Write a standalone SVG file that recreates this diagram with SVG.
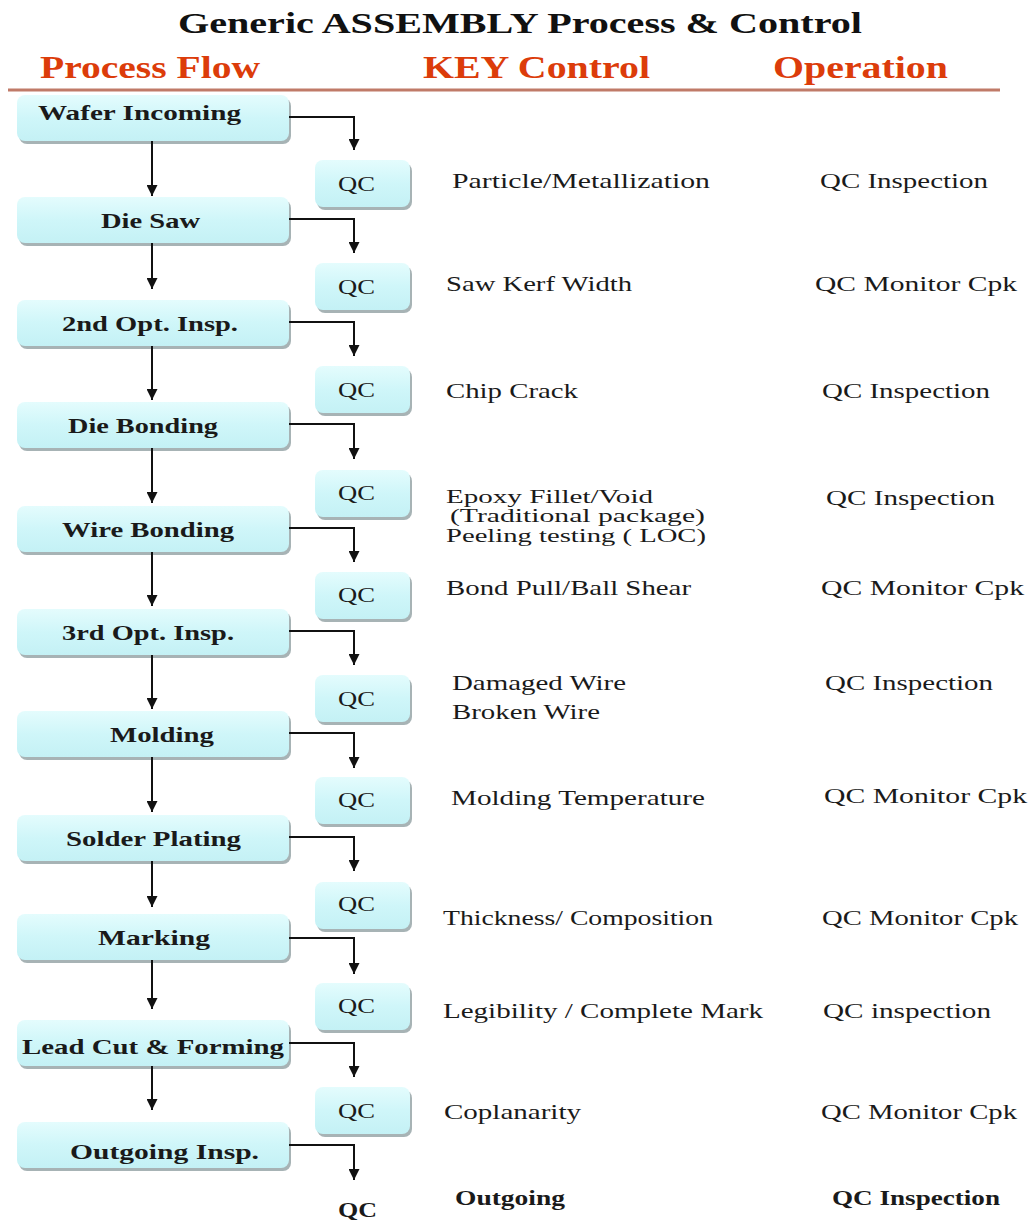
<svg xmlns="http://www.w3.org/2000/svg" width="1033" height="1220" viewBox="0 0 1033 1220">
<style>
  .title{font-family:"Liberation Serif","Times New Roman",serif;font-weight:bold;font-size:30px;fill:#111}
  .hdr{font-family:"Liberation Serif","Times New Roman",serif;font-weight:bold;font-size:31px;fill:#dc3c0a}
  .pl{font-family:"Liberation Serif","Times New Roman",serif;font-weight:bold;font-size:22px;fill:#1a1a1a}
  .qc{font-family:"Liberation Serif","Times New Roman",serif;font-size:21px;fill:#1a1a1a}
  .t{font-family:"Liberation Serif","Times New Roman",serif;font-size:22px;fill:#1a1a1a}
  .ts{font-family:"Liberation Serif","Times New Roman",serif;font-size:18px;fill:#1a1a1a}
  .tb{font-family:"Liberation Serif","Times New Roman",serif;font-size:22px;font-weight:bold;fill:#1a1a1a}
  .box{fill:url(#cyan)}
  .shadow{fill:#8a9a9c;opacity:0.75}
  .conn{fill:none;stroke:#111;stroke-width:2}
</style>
<defs>
  <linearGradient id="cyan" x1="0" y1="0" x2="0" y2="1">
    <stop offset="0" stop-color="#e4fcfd"/>
    <stop offset="0.5" stop-color="#cff6f9"/>
    <stop offset="1" stop-color="#c4f1f5"/>
  </linearGradient>
  <marker id="arr" viewBox="0 0 10 10" refX="10" refY="5" markerWidth="11" markerHeight="11" markerUnits="userSpaceOnUse" orient="auto">
    <path d="M0,0 L10,5 L0,10 z" fill="#111"/>
  </marker>
</defs>
<rect width="1033" height="1220" fill="#fff"/>

<!-- heading -->
<text class="title" x="178" y="33" textLength="684" lengthAdjust="spacingAndGlyphs">Generic ASSEMBLY Process &amp; Control</text>
<text class="hdr" x="40" y="78" textLength="220" lengthAdjust="spacingAndGlyphs">Process Flow</text>
<text class="hdr" x="423" y="78" textLength="227" lengthAdjust="spacingAndGlyphs">KEY Control</text>
<text class="hdr" x="773" y="78" textLength="175" lengthAdjust="spacingAndGlyphs">Operation</text>
<line x1="8" y1="90" x2="1000" y2="90" stroke="#c07a68" stroke-width="3"/>

<!-- process steps -->
<g id="p1"><rect class="shadow" x="19" y="98" width="272" height="46" rx="8"/><rect class="box" x="17" y="95" width="272" height="46" rx="8"/><text class="pl" x="38" y="120" textLength="203" lengthAdjust="spacingAndGlyphs">Wafer Incoming</text></g>
<g id="p2"><rect class="shadow" x="19" y="200" width="272" height="46" rx="8"/><rect class="box" x="17" y="197" width="272" height="46" rx="8"/><text class="pl" x="101" y="228" textLength="99" lengthAdjust="spacingAndGlyphs">Die Saw</text></g>
<g id="p3"><rect class="shadow" x="19" y="303" width="272" height="46" rx="8"/><rect class="box" x="17" y="300" width="272" height="46" rx="8"/><text class="pl" x="62" y="331" textLength="176" lengthAdjust="spacingAndGlyphs">2nd Opt. Insp.</text></g>
<g id="p4"><rect class="shadow" x="19" y="405" width="272" height="46" rx="8"/><rect class="box" x="17" y="402" width="272" height="46" rx="8"/><text class="pl" x="68" y="433" textLength="150" lengthAdjust="spacingAndGlyphs">Die Bonding</text></g>
<g id="p5"><rect class="shadow" x="19" y="509" width="272" height="46" rx="8"/><rect class="box" x="17" y="506" width="272" height="46" rx="8"/><text class="pl" x="62" y="537" textLength="172" lengthAdjust="spacingAndGlyphs">Wire Bonding</text></g>
<g id="p6"><rect class="shadow" x="19" y="612" width="272" height="46" rx="8"/><rect class="box" x="17" y="609" width="272" height="46" rx="8"/><text class="pl" x="62" y="640" textLength="172" lengthAdjust="spacingAndGlyphs">3rd Opt. Insp.</text></g>
<g id="p7"><rect class="shadow" x="19" y="714" width="272" height="46" rx="8"/><rect class="box" x="17" y="711" width="272" height="46" rx="8"/><text class="pl" x="110" y="742" textLength="104" lengthAdjust="spacingAndGlyphs">Molding</text></g>
<g id="p8"><rect class="shadow" x="19" y="818" width="272" height="46" rx="8"/><rect class="box" x="17" y="815" width="272" height="46" rx="8"/><text class="pl" x="66" y="846" textLength="175" lengthAdjust="spacingAndGlyphs">Solder Plating</text></g>
<g id="p9"><rect class="shadow" x="19" y="917" width="272" height="46" rx="8"/><rect class="box" x="17" y="914" width="272" height="46" rx="8"/><text class="pl" x="98" y="945" textLength="112" lengthAdjust="spacingAndGlyphs">Marking</text></g>
<g id="p10"><rect class="shadow" x="19" y="1023" width="272" height="46" rx="8"/><rect class="box" x="17" y="1020" width="272" height="46" rx="8"/><text class="pl" x="22" y="1054" textLength="262" lengthAdjust="spacingAndGlyphs">Lead Cut &amp; Forming</text></g>
<g id="p11"><rect class="shadow" x="19" y="1125" width="272" height="46" rx="8"/><rect class="box" x="17" y="1122" width="272" height="46" rx="8"/><text class="pl" x="70" y="1159" textLength="189" lengthAdjust="spacingAndGlyphs">Outgoing Insp.</text></g>

<!-- QC checkpoints -->
<g id="q1"><rect class="shadow" x="317" y="163" width="95" height="47" rx="8"/><rect class="box" x="315" y="160" width="95" height="47" rx="8"/><text class="qc" x="338" y="191" textLength="37" lengthAdjust="spacingAndGlyphs">QC</text></g>
<g id="q2"><rect class="shadow" x="317" y="266" width="95" height="47" rx="8"/><rect class="box" x="315" y="263" width="95" height="47" rx="8"/><text class="qc" x="338" y="294" textLength="37" lengthAdjust="spacingAndGlyphs">QC</text></g>
<g id="q3"><rect class="shadow" x="317" y="369" width="95" height="47" rx="8"/><rect class="box" x="315" y="366" width="95" height="47" rx="8"/><text class="qc" x="338" y="397" textLength="37" lengthAdjust="spacingAndGlyphs">QC</text></g>
<g id="q4"><rect class="shadow" x="317" y="473" width="95" height="47" rx="8"/><rect class="box" x="315" y="470" width="95" height="47" rx="8"/><text class="qc" x="338" y="500" textLength="37" lengthAdjust="spacingAndGlyphs">QC</text></g>
<g id="q5"><rect class="shadow" x="317" y="575" width="95" height="47" rx="8"/><rect class="box" x="315" y="572" width="95" height="47" rx="8"/><text class="qc" x="338" y="602" textLength="37" lengthAdjust="spacingAndGlyphs">QC</text></g>
<g id="q6"><rect class="shadow" x="317" y="678" width="95" height="47" rx="8"/><rect class="box" x="315" y="675" width="95" height="47" rx="8"/><text class="qc" x="338" y="706" textLength="37" lengthAdjust="spacingAndGlyphs">QC</text></g>
<g id="q7"><rect class="shadow" x="317" y="780" width="95" height="47" rx="8"/><rect class="box" x="315" y="777" width="95" height="47" rx="8"/><text class="qc" x="338" y="807" textLength="37" lengthAdjust="spacingAndGlyphs">QC</text></g>
<g id="q8"><rect class="shadow" x="317" y="885" width="95" height="47" rx="8"/><rect class="box" x="315" y="882" width="95" height="47" rx="8"/><text class="qc" x="338" y="911" textLength="37" lengthAdjust="spacingAndGlyphs">QC</text></g>
<g id="q9"><rect class="shadow" x="317" y="986" width="95" height="47" rx="8"/><rect class="box" x="315" y="983" width="95" height="47" rx="8"/><text class="qc" x="338" y="1013" textLength="37" lengthAdjust="spacingAndGlyphs">QC</text></g>
<g id="q10"><rect class="shadow" x="317" y="1090" width="95" height="47" rx="8"/><rect class="box" x="315" y="1087" width="95" height="47" rx="8"/><text class="qc" x="338" y="1118" textLength="37" lengthAdjust="spacingAndGlyphs">QC</text></g>
<g id="q11"><text class="tb" x="338" y="1217" textLength="39" lengthAdjust="spacingAndGlyphs">QC</text></g>

<!-- connectors -->
<g id="connectors">
  <!-- main flow -->
  <path class="conn" marker-end="url(#arr)" d="M152,141 V196"/>
  <path class="conn" marker-end="url(#arr)" d="M152,243 V289"/>
  <path class="conn" marker-end="url(#arr)" d="M152,346 V400"/>
  <path class="conn" marker-end="url(#arr)" d="M152,448 V503"/>
  <path class="conn" marker-end="url(#arr)" d="M152,552 V606"/>
  <path class="conn" marker-end="url(#arr)" d="M152,655 V709"/>
  <path class="conn" marker-end="url(#arr)" d="M152,757 V812"/>
  <path class="conn" marker-end="url(#arr)" d="M152,861 V907"/>
  <path class="conn" marker-end="url(#arr)" d="M152,960 V1009"/>
  <path class="conn" marker-end="url(#arr)" d="M152,1066 V1110"/>
  <!-- branches to QC -->
  <path class="conn" marker-end="url(#arr)" d="M289,117 H354 V150"/>
  <path class="conn" marker-end="url(#arr)" d="M289,219 H354 V253"/>
  <path class="conn" marker-end="url(#arr)" d="M289,322 H354 V356"/>
  <path class="conn" marker-end="url(#arr)" d="M289,424 H354 V459"/>
  <path class="conn" marker-end="url(#arr)" d="M289,528 H354 V562"/>
  <path class="conn" marker-end="url(#arr)" d="M289,631 H354 V665"/>
  <path class="conn" marker-end="url(#arr)" d="M289,733 H354 V768"/>
  <path class="conn" marker-end="url(#arr)" d="M289,837 H354 V871"/>
  <path class="conn" marker-end="url(#arr)" d="M289,938 H354 V974"/>
  <path class="conn" marker-end="url(#arr)" d="M289,1043 H354 V1077"/>
  <path class="conn" marker-end="url(#arr)" d="M289,1145 H354 V1180"/>
</g>

<!-- key control items -->
<g id="key-control">
  <text class="t" x="452" y="188" textLength="258" lengthAdjust="spacingAndGlyphs">Particle/Metallization</text>
  <text class="t" x="446" y="291" textLength="186" lengthAdjust="spacingAndGlyphs">Saw Kerf Width</text>
  <text class="t" x="446" y="398" textLength="132" lengthAdjust="spacingAndGlyphs">Chip Crack</text>
  <text class="ts" x="446" y="503" textLength="207" lengthAdjust="spacingAndGlyphs">Epoxy Fillet/Void</text>
  <text class="ts" x="450" y="522" textLength="255" lengthAdjust="spacingAndGlyphs">(Traditional package)</text>
  <text class="ts" x="446" y="542" textLength="260" lengthAdjust="spacingAndGlyphs">Peeling testing ( LOC)</text>
  <text class="t" x="446" y="595" textLength="245" lengthAdjust="spacingAndGlyphs">Bond Pull/Ball Shear</text>
  <text class="t" x="452" y="690" textLength="174" lengthAdjust="spacingAndGlyphs">Damaged Wire</text>
  <text class="t" x="452" y="719" textLength="148" lengthAdjust="spacingAndGlyphs">Broken Wire</text>
  <text class="t" x="451" y="805" textLength="254" lengthAdjust="spacingAndGlyphs">Molding Temperature</text>
  <text class="t" x="443" y="925" textLength="270" lengthAdjust="spacingAndGlyphs">Thickness/ Composition</text>
  <text class="t" x="443" y="1018" textLength="320" lengthAdjust="spacingAndGlyphs">Legibility / Complete Mark</text>
  <text class="t" x="444" y="1119" textLength="137" lengthAdjust="spacingAndGlyphs">Coplanarity</text>
  <text class="tb" x="455" y="1205" textLength="110" lengthAdjust="spacingAndGlyphs">Outgoing</text>
</g>

<!-- operations -->
<g id="operation">
  <text class="t" x="820" y="188" textLength="168" lengthAdjust="spacingAndGlyphs">QC Inspection</text>
  <text class="t" x="815" y="291" textLength="202" lengthAdjust="spacingAndGlyphs">QC Monitor  Cpk</text>
  <text class="t" x="822" y="398" textLength="168" lengthAdjust="spacingAndGlyphs">QC Inspection</text>
  <text class="t" x="826" y="505" textLength="169" lengthAdjust="spacingAndGlyphs">QC Inspection</text>
  <text class="t" x="821" y="595" textLength="203" lengthAdjust="spacingAndGlyphs">QC Monitor  Cpk</text>
  <text class="t" x="825" y="690" textLength="168" lengthAdjust="spacingAndGlyphs">QC Inspection</text>
  <text class="t" x="824" y="803" textLength="203" lengthAdjust="spacingAndGlyphs">QC Monitor  Cpk</text>
  <text class="t" x="822" y="925" textLength="196" lengthAdjust="spacingAndGlyphs">QC Monitor Cpk</text>
  <text class="t" x="823" y="1018" textLength="168" lengthAdjust="spacingAndGlyphs">QC inspection</text>
  <text class="t" x="821" y="1119" textLength="196" lengthAdjust="spacingAndGlyphs">QC Monitor Cpk</text>
  <text class="tb" x="832" y="1205" textLength="168" lengthAdjust="spacingAndGlyphs">QC Inspection</text>
</g>
</svg>
